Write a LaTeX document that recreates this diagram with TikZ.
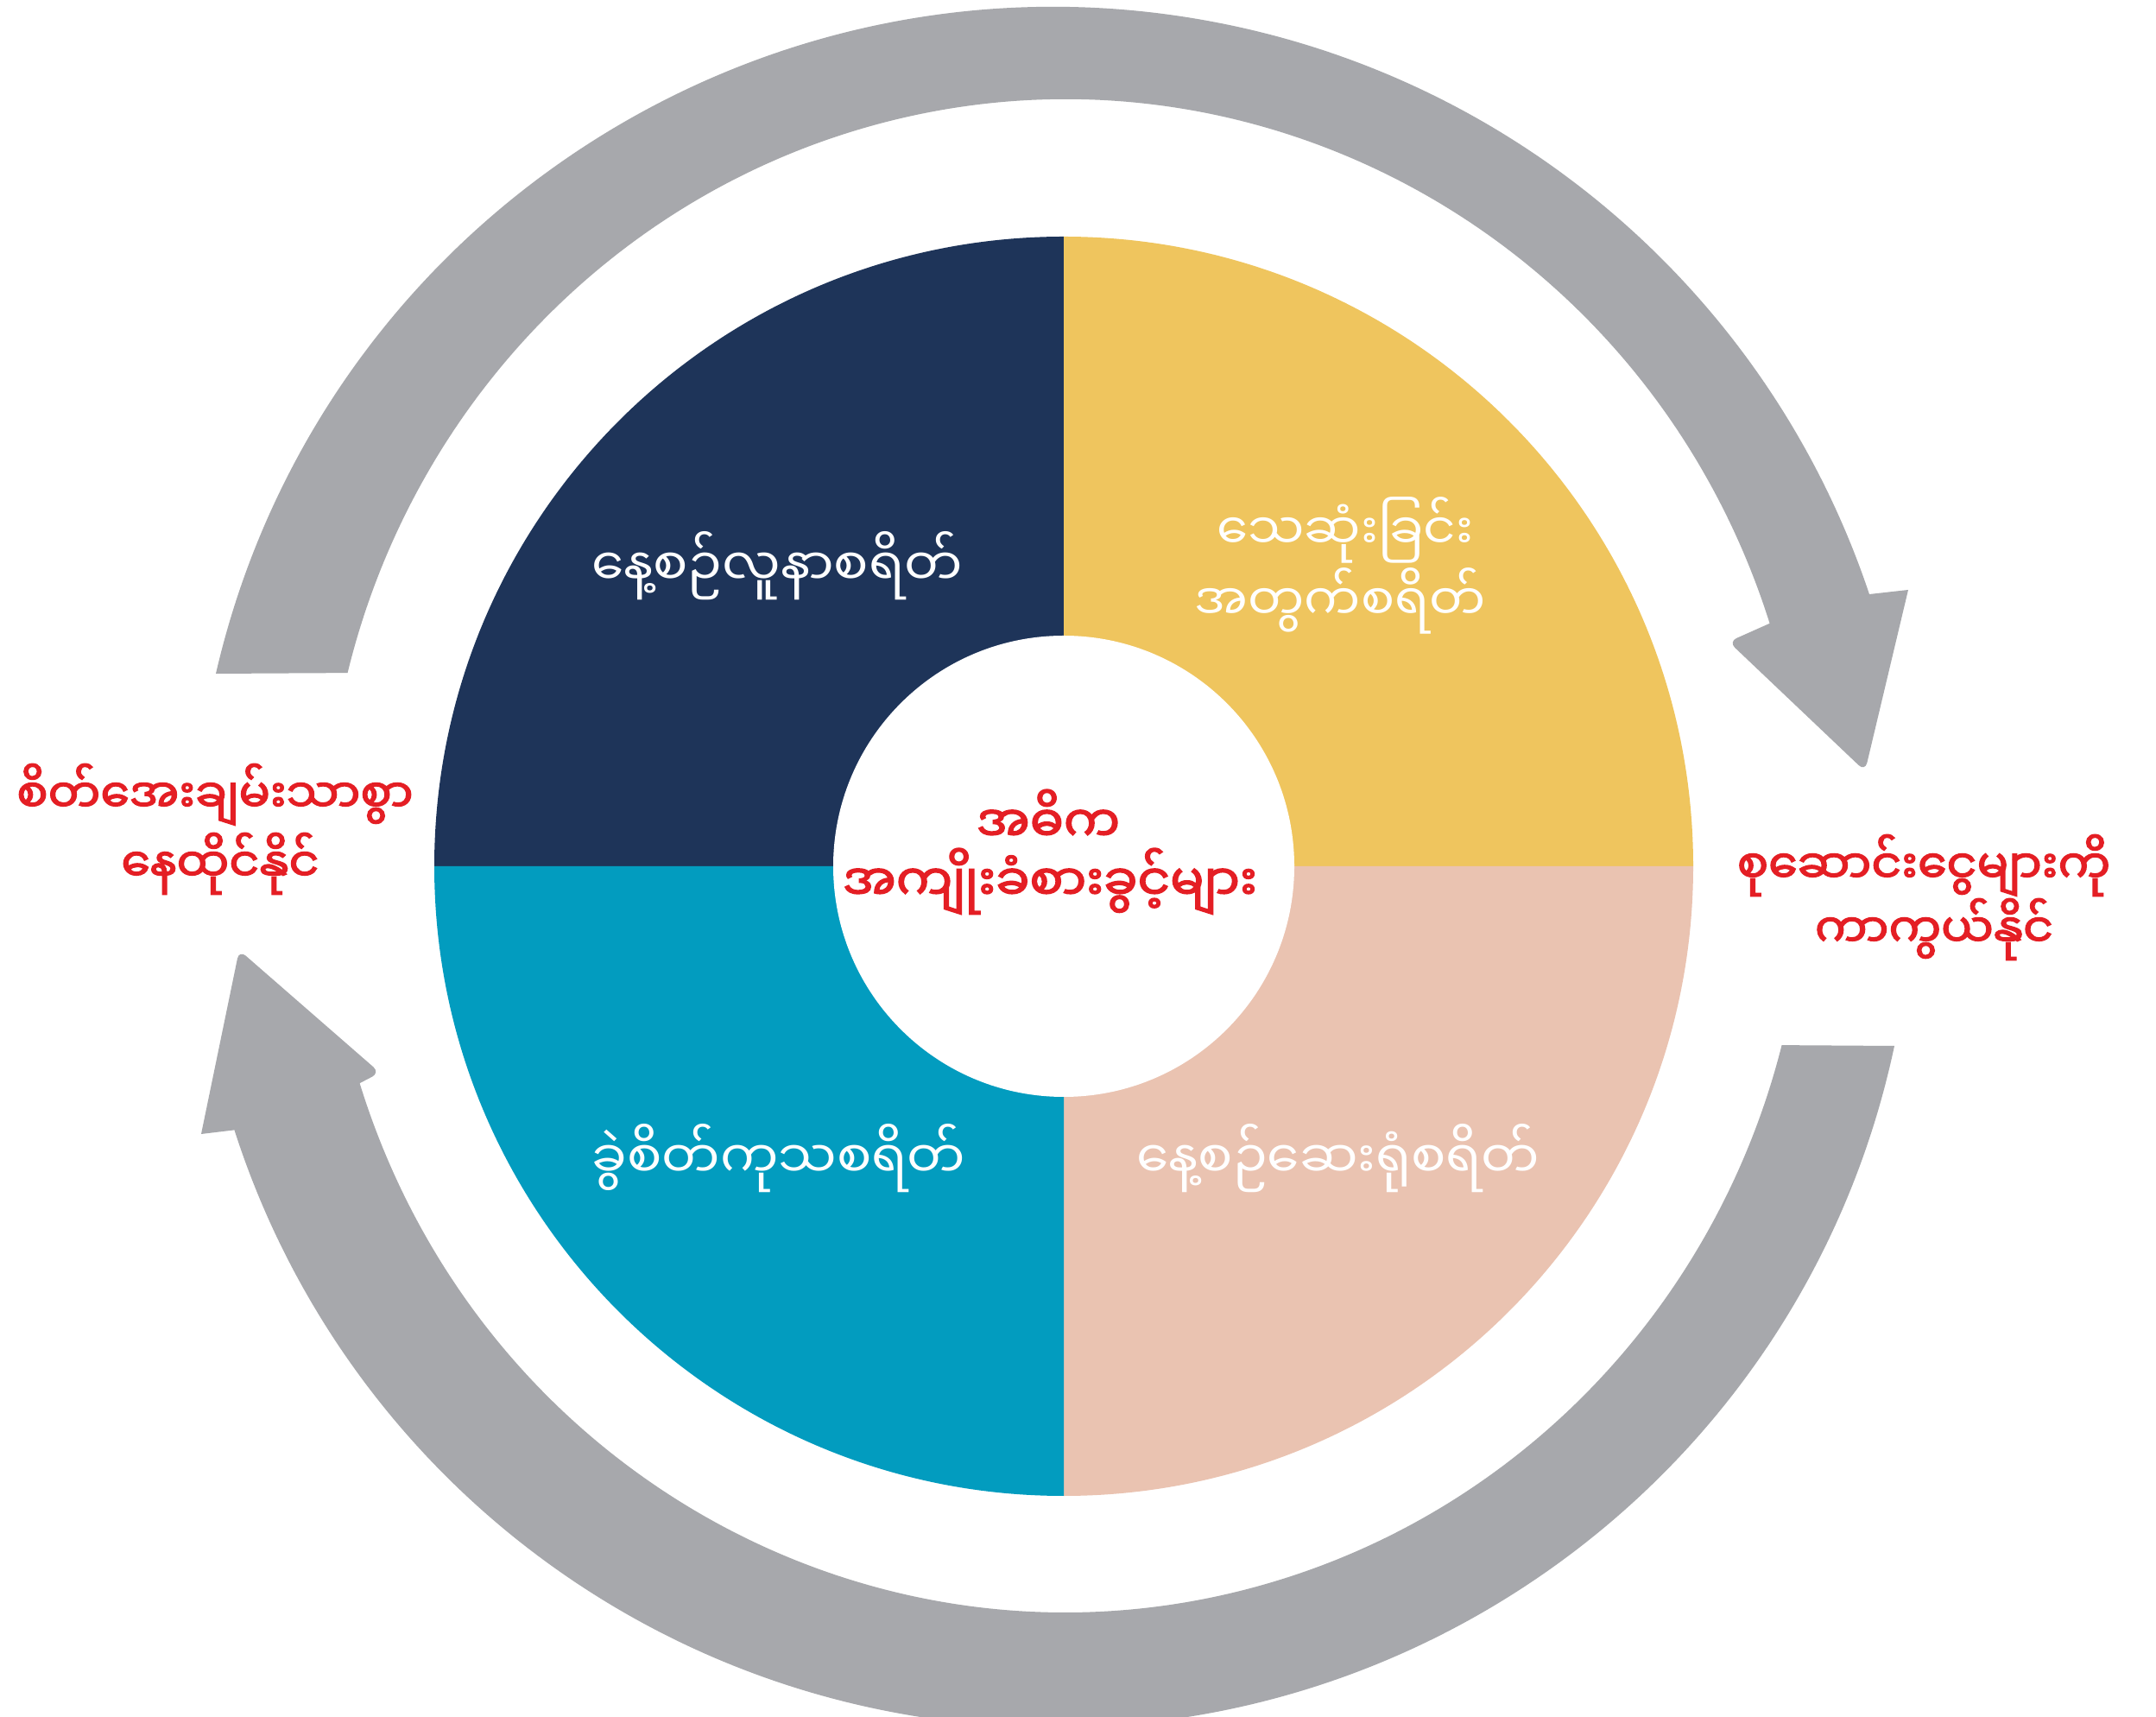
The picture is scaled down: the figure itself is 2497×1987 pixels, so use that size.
\documentclass[tikz,border=0pt]{standalone}
\usepackage{fontspec}
\newfontfamily\mya[Script=Myanmar]{Noto Sans Myanmar UI}
\newfontfamily\myab[Script=Myanmar,FakeBold=2.5]{Noto Sans Myanmar UI}
\definecolor{navyq}{RGB}{30,52,89}
\definecolor{yellowq}{RGB}{239,197,94}
\definecolor{tealq}{RGB}{2,156,191}
\definecolor{pinkq}{RGB}{234,195,177}
\definecolor{arrowgray}{RGB}{167,168,172}
\definecolor{redtxt}{RGB}{228,30,36}
\tikzset{
  lbl/.style={inner sep=0pt, anchor=base, text height=42pt, text depth=14pt},
  wtxt/.style={lbl, text=white, font=\mya\fontsize{60}{72}\selectfont},
  rtxt/.style={lbl, text=redtxt, font=\myab\fontsize{58}{70}\selectfont},
  sidetxt/.style={lbl, text=redtxt, font=\myab\fontsize{54}{64}\selectfont},
  cyclearrow/.style={fill=arrowgray}
}
\begin{document}
\begin{tikzpicture}[x=1pt,y=1pt]
\useasboundingbox (0,0) rectangle (2497,1987);
\fill[white] (0,0) rectangle (2497,1987);
\begin{scope}
\clip (0,0) rectangle (2497,1987);
% top cycle arrow (clockwise, left to right)
\fill[cyclearrow] (250,1207) arc[start angle=167, end angle=18.5, radius=996pt]
  -- (2210,1304) [rounded corners=10pt] -- (2160,1094) -- (2002,1244) [sharp corners] -- (2049.6,1265.2)
  arc[start angle=17.9, end angle=166, x radius=857pt, y radius=876pt] -- cycle;
% bottom cycle arrow (clockwise, right to left)
\fill[cyclearrow] (2194,776) arc[start angle=-12, end angle=-162.2, radius=996pt]
  -- (233,674) [rounded corners=10pt] -- (277,887) -- (440,745) [sharp corners] -- (416.6,732.8)
  arc[start angle=-162.5, end angle=-14.5, x radius=857pt, y radius=876pt] -- cycle;
\end{scope}
% pie
\coordinate (c) at (1232,984);
\fill[navyq] (c) -- ++(-729pt,0) arc[start angle=180, end angle=90, radius=729pt] -- cycle;
\fill[yellowq] (c) -- ++(0,729pt) arc[start angle=90, end angle=0, radius=729pt] -- cycle;
\fill[pinkq] (c) -- ++(729pt,0) arc[start angle=0, end angle=-90, radius=729pt] -- cycle;
\fill[tealq] (c) -- ++(0,-729pt) arc[start angle=270, end angle=180, radius=729pt] -- cycle;
\fill[white] (c) circle[radius=267pt];
% quadrant labels
\node[wtxt] (q1) at (900,1308) {နေ့စဉ်လူနာစရိတ်};
\node[wtxt, font=\mya\fontsize{58}{70}\selectfont] (q2a) at (1558,1350) {သေဆုံးခြင်း};
\node[wtxt, font=\mya\fontsize{58}{70}\selectfont] (q2b) at (1552,1268) {အတွက်စရိတ်};
\node[wtxt] (q3) at (902,622) {ခွဲစိတ်ကုသစရိတ်};
\node[wtxt] (q4) at (1550,622) {နေ့စဉ်ဆေးရုံစရိတ်};
% centre
\node[rtxt] (ca) at (1214,1012) {အဓိက};
\node[rtxt] (cb) at (1216,944) {အကျိုးခံစားခွင့်များ};
% side labels
\node[sidetxt] (la) at (249,1046) {စိတ်အေးချမ်းသာစွာ};
\node[sidetxt] (lb) at (255,966) {နေထိုင်နိုင်};
\node[sidetxt] (ra) at (2228,964) {စုဆောင်းငွေများကို};
\node[sidetxt] (rb) at (2240,890) {ကာကွယ်နိုင်};
\end{tikzpicture}
\end{document}
